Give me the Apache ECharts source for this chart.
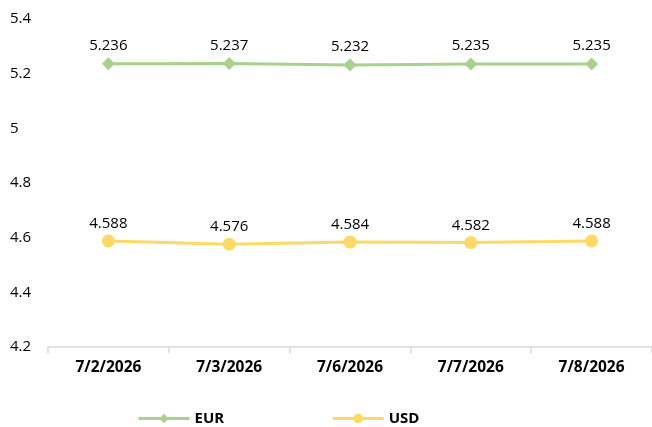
<!DOCTYPE html>
<html>
<head>
<meta charset="utf-8">
<script src="https://cdn.jsdelivr.net/npm/echarts@6/dist/echarts.min.js"></script>
<style>html,body{margin:0;padding:0;background:#fff}#c{width:652px;height:427px}</style>
</head>
<body>
<div id="c"></div>
<script>
const categories = ['7/2/2026', '7/3/2026', '7/6/2026', '7/7/2026', '7/8/2026'];
const eurValues = [5.236, 5.237, 5.232, 5.235, 5.235];
const usdValues = [4.588, 4.576, 4.584, 4.582, 4.588];
const yTicks = { min: 4.2, max: 5.4, interval: 0.2 };

const chart = echarts.init(document.getElementById('c'));
const font = '"Open Sans", "Noto Sans", sans-serif';
chart.setOption({
  animation: false,
  grid: { left: 48, right: 0, top: 19, bottom: 80 },
  legend: {
    top: 411,
    left: 137,
    padding: 0,
    itemWidth: 51,
    itemHeight: 12,
    itemGap: 107,
    lineStyle: { width: 3 },
    textStyle: { fontFamily: font, fontSize: 15, fontWeight: 'bold', color: '#000' },
    data: ['EUR', 'USD']
  },
  xAxis: {
    type: 'category',
    data: categories,
    boundaryGap: true,
    axisLine: { lineStyle: { color: '#D9D9D9', width: 1.5 } },
    axisTick: { show: true, length: 6, lineStyle: { color: '#D9D9D9', width: 1.5 } },
    axisLabel: { fontFamily: font, fontSize: 15.5, fontWeight: 'bold', color: '#000', margin: 13 }
  },
  yAxis: {
    type: 'value',
    min: yTicks.min, max: yTicks.max, interval: yTicks.interval,
    splitLine: { show: false },
    axisLine: { show: false },
    axisTick: { show: false },
    axisLabel: {
      fontFamily: font, fontSize: 15, color: '#000', align: 'left', margin: 38,
      formatter: v => String(Math.round(v * 10) / 10)
    }
  },
  series: [
    {
      name: 'EUR', type: 'line', data: eurValues,
      symbol: 'diamond', symbolSize: 13,
      lineStyle: { color: '#A9D18E', width: 3 },
      itemStyle: { color: '#A9D18E' },
      label: { show: true, position: 'top', distance: 4, fontFamily: font, fontSize: 15, color: '#000',
        formatter: p => p.value.toFixed(3) }
    },
    {
      name: 'USD', type: 'line', data: usdValues,
      symbol: 'circle', symbolSize: 13,
      lineStyle: { color: '#FFD966', width: 3 },
      itemStyle: { color: '#FFD966' },
      label: { show: true, position: 'top', distance: 3, fontFamily: font, fontSize: 15, color: '#000',
        formatter: p => p.value.toFixed(3) }
    }
  ]
});
</script>
</body>
</html>
